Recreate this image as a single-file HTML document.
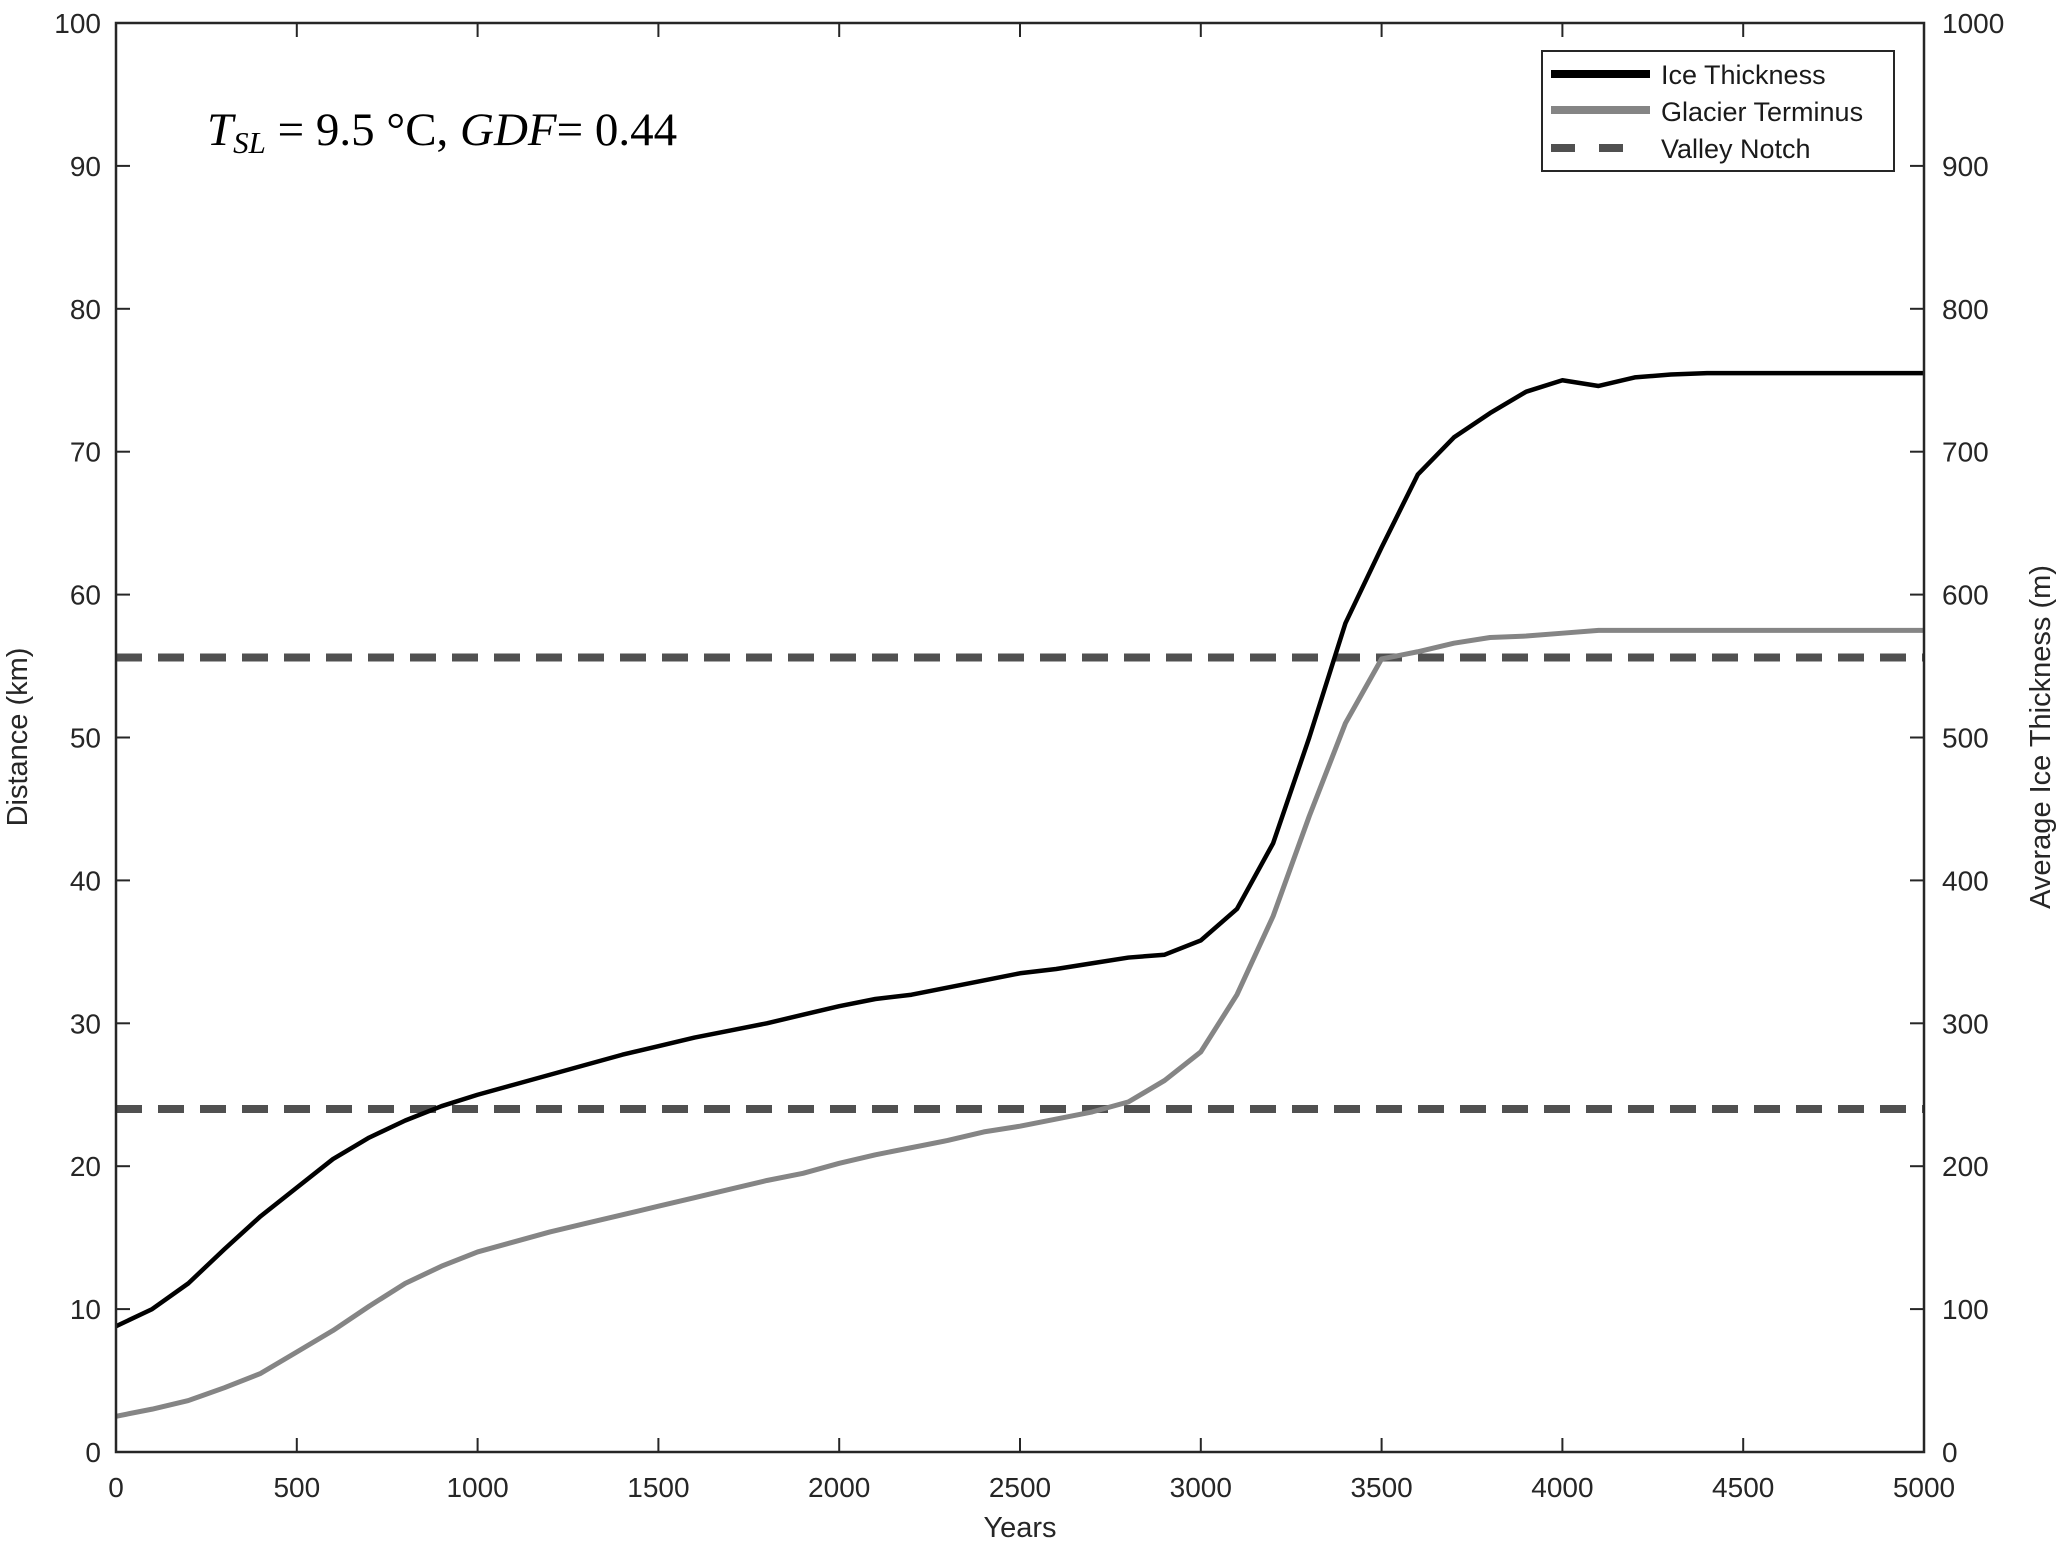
<!DOCTYPE html>
<html><head><meta charset="utf-8"><style>
body{margin:0;background:#fff}
svg{display:block;font-family:"Liberation Sans",sans-serif}
</style></head><body>
<svg width="2067" height="1541" viewBox="0 0 2067 1541">
<g id="plot"></g>
</svg>
<script>
const years=[0,100,200,300,400,500,600,700,800,900,1000,1100,1200,1300,1400,1500,1600,1700,1800,1900,2000,2100,2200,2300,2400,2500,2600,2700,2800,2900,3000,3100,3200,3300,3400,3500,3600,3700,3800,3900,4000,4100,4200,4300,4400,4500,4600,4700,4800,4900,5000];
const iceThickness=[88,100,118,142,165,185,205,220,232,242,250,257,264,271,278,284,290,295,300,306,312,317,320,325,330,335,338,342,346,348,358,380,426,500,580,633,684,710,727,742,750,746,752,754,755,755,755,755,755,755,755];
const terminus=[2.5,3,3.6,4.5,5.5,7,8.5,10.2,11.8,13,14,14.7,15.4,16,16.6,17.2,17.8,18.4,19,19.5,20.2,20.8,21.3,21.8,22.4,22.8,23.3,23.8,24.5,26,28,32,37.5,44.5,51,55.5,56,56.6,57,57.1,57.3,57.5,57.5,57.5,57.5,57.5,57.5,57.5,57.5,57.5,57.5];
const notches=[55.6,24];
const xTicks=[0,500,1000,1500,2000,2500,3000,3500,4000,4500,5000];
const yTicks=[0,10,20,30,40,50,60,70,80,90,100];
const y2Ticks=[0,100,200,300,400,500,600,700,800,900,1000];

const L=116,R=1924,T=23,B=1452;
const X=v=>L+(v/5000)*(R-L);
const Y=v=>B-(v/100)*(B-T);
const Y2=v=>B-(v/1000)*(B-T);
const NS='http://www.w3.org/2000/svg';
const g=document.getElementById('plot');
function mk(tag,attrs,parent){const e=document.createElementNS(NS,tag);for(const k in attrs)e.setAttribute(k,attrs[k]);(parent||g).appendChild(e);return e;}

notches.forEach((n,i)=>{
 const e=mk('line',{x1:L,x2:R,y1:Y(n),y2:Y(n),stroke:'#505050','stroke-width':8,'stroke-dasharray':'26 16'});
 
 
});
let d='';
years.forEach((yr,i)=>{d+=(i?' L':'M')+X(yr)+' '+Y(terminus[i]);});
const tl=mk('path',{d:d,fill:'none',stroke:'#858585','stroke-width':5,'stroke-linejoin':'round'});


let d2='';
years.forEach((yr,i)=>{d2+=(i?' L':'M')+X(yr)+' '+Y2(iceThickness[i]);});
const il=mk('path',{d:d2,fill:'none',stroke:'#000','stroke-width':4.5,'stroke-linejoin':'round'});



const fr=mk('rect',{x:L,y:T,width:R-L,height:B-T,fill:'none',stroke:'#262626','stroke-width':2.5});


xTicks.forEach(t=>{
 mk('line',{x1:X(t),x2:X(t),y1:B,y2:B-14,stroke:'#262626','stroke-width':2});
 mk('line',{x1:X(t),x2:X(t),y1:T,y2:T+14,stroke:'#262626','stroke-width':2});
 const tx=mk('text',{x:X(t),y:1497,'font-size':28,'text-anchor':'middle',fill:'#262626'});tx.textContent=t;
 
 
});
yTicks.forEach(t=>{
 mk('line',{x1:L,x2:L+14,y1:Y(t),y2:Y(t),stroke:'#262626','stroke-width':2});
 const tx=mk('text',{x:101,y:Y(t)+10,'font-size':28,'text-anchor':'end',fill:'#262626'});tx.textContent=t;
 
 
});
y2Ticks.forEach(t=>{
 mk('line',{x1:R,x2:R-14,y1:Y2(t),y2:Y2(t),stroke:'#262626','stroke-width':2});
 const tx=mk('text',{x:1942,y:Y2(t)+10,'font-size':28,fill:'#262626'});tx.textContent=t;
 
 
});
</script>
<svg style="position:absolute;left:0;top:0" width="2067" height="1541">
<text x="1020" y="1537" font-size="29" text-anchor="middle" fill="#262626" font-family="Liberation Sans,sans-serif">Years</text>
<text transform="translate(27,737) rotate(-90)" font-size="29" text-anchor="middle" fill="#262626" font-family="Liberation Sans,sans-serif">Distance (km)</text>
<text transform="translate(2050,737) rotate(-90)" font-size="29" text-anchor="middle" fill="#262626" font-family="Liberation Sans,sans-serif">Average Ice Thickness (m)</text>
<text x="207" y="145" font-size="47" font-family="Liberation Serif,serif" fill="#000"><tspan font-style="italic">T</tspan><tspan font-style="italic" font-size="31" dy="8">SL</tspan><tspan dy="-8"> = 9.5 °C, </tspan><tspan font-style="italic">GDF</tspan><tspan>= 0.44</tspan></text>
<g>
<rect x="1542" y="51" width="352" height="120" fill="#fff" stroke="#262626" stroke-width="2"/>
<line x1="1551" x2="1650" y1="74" y2="74" stroke="#000" stroke-width="8"/>
<line x1="1551" x2="1650" y1="110" y2="110" stroke="#858585" stroke-width="8"/>
<line x1="1551" x2="1575" y1="148" y2="148" stroke="#505050" stroke-width="8"/>
<line x1="1599" x2="1623" y1="148" y2="148" stroke="#505050" stroke-width="8"/>
<text x="1661" y="84" font-size="27" fill="#1a1a1a" font-family="Liberation Sans,sans-serif">Ice Thickness</text>
<text x="1661" y="121" font-size="27" fill="#1a1a1a" font-family="Liberation Sans,sans-serif">Glacier Terminus</text>
<text x="1661" y="158" font-size="27" fill="#1a1a1a" font-family="Liberation Sans,sans-serif">Valley Notch</text>
</g>
</svg>
</body></html>
